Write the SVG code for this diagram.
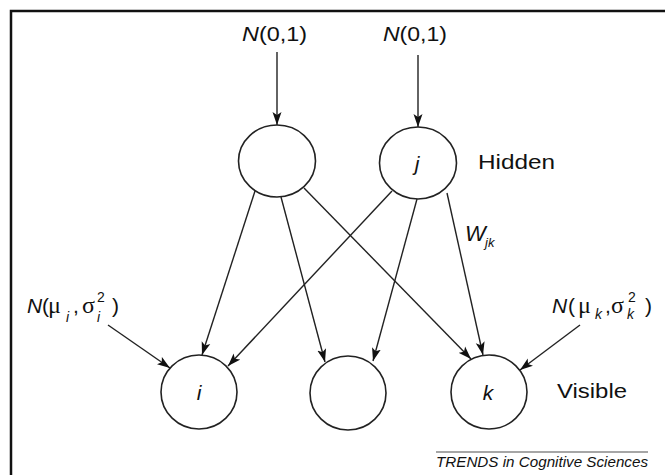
<svg xmlns="http://www.w3.org/2000/svg" width="665" height="475" viewBox="0 0 665 475">
<defs>
<marker id="ah" markerUnits="userSpaceOnUse" markerWidth="14" markerHeight="10" refX="13" refY="5" orient="auto">
<path d="M0,0.5 L13,5 L0,9.5 L3,5 Z" fill="#111"/>
</marker>
</defs>
<style>
.node{fill:#fff;stroke:#222;stroke-width:1.6}
.edge{stroke:#222;stroke-width:1.4;fill:none;marker-end:url(#ah)}
.t{font-family:"Liberation Sans",Arial,sans-serif;fill:#111}
.it{font-style:italic}
.gr{font-family:"Liberation Serif","DejaVu Serif",serif}
</style>
<rect width="665" height="475" fill="#fff"/>
<path d="M11,480 V11 H670" fill="none" stroke="#111" stroke-width="2.5"/>

<g id="connectors">
<line class="edge" x1="277" y1="52" x2="277" y2="125"/>
<line class="edge" x1="418" y1="55" x2="418" y2="127"/>
<line class="edge" x1="255" y1="191" x2="202" y2="355"/>
<line class="edge" x1="281" y1="197" x2="325" y2="362"/>
<line class="edge" x1="304" y1="188" x2="471" y2="359"/>
<line class="edge" x1="392" y1="191" x2="228" y2="366"/>
<line class="edge" x1="417" y1="199" x2="373" y2="361"/>
<line class="edge" x1="447" y1="193" x2="483" y2="355"/>
<line class="edge" x1="108" y1="325" x2="170" y2="368"/>
<line class="edge" x1="580" y1="325" x2="520" y2="370"/>
</g>

<g id="hidden-left"><ellipse class="node" cx="277" cy="161" rx="38.5" ry="36"/></g>
<g id="hidden-j"><ellipse class="node" cx="418" cy="163" rx="38.5" ry="36"/>
<text class="t it" x="417" y="171" font-size="21" text-anchor="middle">j</text></g>
<g id="visible-i"><ellipse class="node" cx="199" cy="392" rx="38" ry="37"/>
<text class="t it" x="199" y="400" font-size="21" text-anchor="middle">i</text></g>
<g id="visible-mid"><ellipse class="node" cx="348" cy="393" rx="38" ry="37"/></g>
<g id="visible-k"><ellipse class="node" cx="489" cy="392" rx="38" ry="37"/>
<text class="t it" x="488" y="400" font-size="21" text-anchor="middle">k</text></g>

<g id="labels">
<text class="t" x="242" y="41" font-size="21" textLength="65" lengthAdjust="spacingAndGlyphs"><tspan class="it">N</tspan>(0,1)</text>
<text class="t" x="383" y="41" font-size="21" textLength="64" lengthAdjust="spacingAndGlyphs"><tspan class="it">N</tspan>(0,1)</text>
<text class="t" x="478" y="169" font-size="21" textLength="77" lengthAdjust="spacingAndGlyphs">Hidden</text>
<text class="t" x="557" y="398" font-size="21" textLength="70" lengthAdjust="spacingAndGlyphs">Visible</text>
<text class="t it" x="465" y="241" font-size="22">W</text>
<text class="t it" x="485" y="247" font-size="13">jk</text>

<text class="t" y="313" font-size="21"><tspan class="it" x="27">N</tspan><tspan x="42">(</tspan><tspan class="gr" x="48" font-size="24">μ</tspan><tspan class="it" x="66" y="322" font-size="14">i</tspan><tspan x="73" y="313">,</tspan><tspan class="gr" x="82" font-size="24">σ</tspan><tspan x="97" y="302" font-size="14">2</tspan><tspan class="it" x="97" y="322" font-size="14">i</tspan><tspan x="112" y="313">)</tspan></text>

<text class="t" y="313" font-size="21"><tspan class="it" x="552">N</tspan><tspan x="568">(</tspan><tspan class="gr" x="578" font-size="24">μ</tspan><tspan class="it" x="595" y="319" font-size="14">k</tspan><tspan x="605" y="313">,</tspan><tspan class="gr" x="611" font-size="24">σ</tspan><tspan x="628" y="302" font-size="14">2</tspan><tspan class="it" x="627" y="319" font-size="14">k</tspan><tspan x="645" y="313">)</tspan></text>

<line x1="436" y1="452" x2="648" y2="452" stroke="#888" stroke-width="1.5"/>
<text class="t it" x="436" y="467" font-size="14.5" textLength="212" lengthAdjust="spacingAndGlyphs">TRENDS in Cognitive Sciences</text>
</g>
</svg>
